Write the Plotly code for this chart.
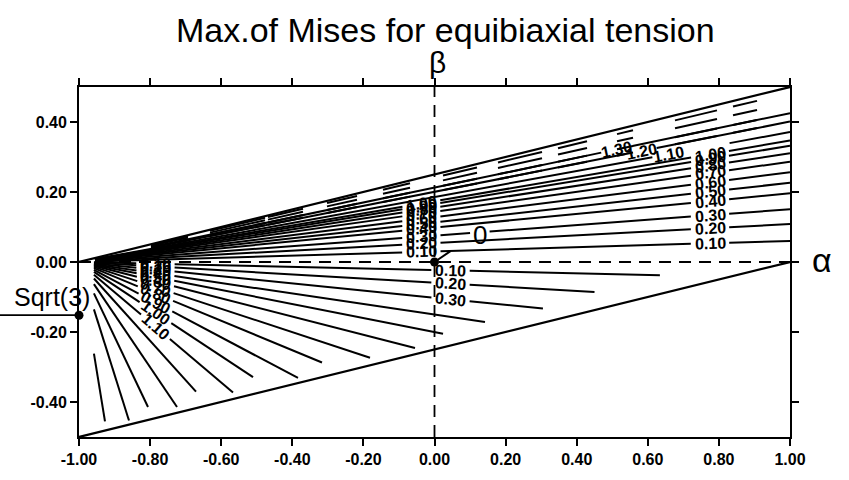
import math
import plotly.graph_objects as go

# ---------------- data ----------------
# every contour is a ray from the point (-1, 0); it is described by its slope
upper_levels = ["0.10", "0.20", "0.30", "0.40", "0.50", "0.60", "0.70", "0.80", "0.90", "1.00", "1.10", "1.20", "1.30"]
upper_slopes = [0.0301, 0.0543, 0.0754, 0.0981, 0.1132, 0.1282, 0.1433, 0.1554, 0.1660, 0.1735, 0.1856, 0.2006, 0.2127]
upper_x_start = [-0.955] * 11 + [-0.72, -0.72]
upper_x_end = [1.0] * 13
# label columns of the upper fan
upper_mid_label_x = -0.037
upper_right_label_x = 0.775
upper_top_labels = ["1.10", "1.20", "1.30"]
upper_top_label_x = [0.657, 0.581, 0.513]

# broken (hatched) contour pieces just under the upper boundary
hatch_slopes = [0.2006, 0.2127, 0.2278, 0.2414]
hatch_x0 = [-0.7975, -0.6315, -0.4684, -0.3024, -0.1449, 0.0239, 0.1786, 0.3474, 0.5134, 0.6765, 0.8397]
hatch_x1 = [-0.6934, -0.4768, -0.3699, -0.2180, -0.0689, 0.1195, 0.3024, 0.4290, 0.5584, 0.7946, 0.9072]

lower_levels = ["0.10", "0.20", "0.30", "0.40", "0.50", "0.60", "0.70", "0.80", "0.90", "1.00",
                "1.10", "1.20", "1.30", "1.40", "1.50", "1.60"]
lower_slopes = [-0.023, -0.059, -0.102, -0.150, -0.200, -0.260, -0.334, -0.420, -0.538, -0.672,
                -0.861, -1.125, -1.503, -2.135, -3.22, -6.23]
lower_x_start = -0.958
lower_x_end = [0.634, 0.45, 0.305, 0.142, 0.024, -0.0549, -0.1814, -0.3165, -0.384, -0.5105,
               -0.5668, -0.6709, -0.7243, -0.8059, -0.8594, -0.9269]
lower_left_label_x = -0.785
lower_left_labelled = 11          # 0.10 ... 1.10
lower_right_label_x = 0.045
lower_right_labelled = 3          # 0.10 ... 0.30

zero_label_pos = (0.128, 0.077)  # the isolated "0"
hook_x = [0.0, 0.045]
hook_y = [0.0, 0.031]
sqrt3_y = -0.152

xticks = [-1.0, -0.8, -0.6, -0.4, -0.2, 0.0, 0.2, 0.4, 0.6, 0.8, 1.0]
yticks = [-0.4, -0.2, 0.0, 0.2, 0.4]

# ---------------- geometry helpers ----------------
XPX, YPX = 355.5, 362.0  # px per data unit
GAP = 0.054
LW = 2.0


def ray_y(s, x):
    return s * (x + 1.0)


def ray_pieces(s, x0, x1, gaps):
    out = []
    cur = x0
    for g0, g1 in sorted(gaps):
        if g1 <= cur or g0 >= x1:
            continue
        if g0 > cur:
            out.append((cur, g0))
        cur = max(cur, g1)
    if cur < x1:
        out.append((cur, x1))
    return out


def gap_at(s, xc, half=GAP):
    h = half / math.sqrt(1 + (s * YPX / XPX) ** 2)
    return (xc - h, xc + h)


def angle(s):
    return math.degrees(math.atan(s * YPX / XPX))


xs, ys = [], []
annotations = []
lab_font = dict(family="Liberation Sans", size=16, color="black", weight="bold")


def add_piece(s, a, b):
    xs.extend([a, b, None])
    ys.extend([ray_y(s, a), ray_y(s, b), None])


def add_label(text, s, x):
    annotations.append(dict(x=x, y=ray_y(s, x), xref="x", yref="y", text=text, showarrow=False,
                            font=lab_font, textangle=-angle(s), xanchor="center", yanchor="middle"))


# upper fan
for i, (lev, s) in enumerate(zip(upper_levels, upper_slopes)):
    gaps = []
    if i < 10:
        gaps.append(gap_at(s, upper_mid_label_x))
        gaps.append(gap_at(s, upper_right_label_x))
        add_label(lev, s, upper_mid_label_x)
        add_label(lev, s, upper_right_label_x)
    else:
        k = i - 10
        xc = upper_top_label_x[k]
        g = gap_at(s, xc, 0.045)
        if k == 0:
            g = (g[0], 0.83)
        gaps.append(g)
        add_label(lev, s, xc)
    if lev == "0.30":
        gaps.append((0.10, 0.155))
    for a, b in ray_pieces(s, upper_x_start[i], upper_x_end[i], gaps):
        add_piece(s, a, b)

# hatched pieces
for s in hatch_slopes:
    for a, b in zip(hatch_x0, hatch_x1):
        add_piece(s, a, b)

# lower fan
for i, (lev, s) in enumerate(zip(lower_levels, lower_slopes)):
    gaps = []
    if i < lower_left_labelled:
        gaps.append(gap_at(s, lower_left_label_x))
        add_label(lev, s, lower_left_label_x)
    if i < lower_right_labelled:
        gaps.append(gap_at(s, lower_right_label_x))
        add_label(lev, s, lower_right_label_x)
    for a, b in ray_pieces(s, lower_x_start, lower_x_end[i], gaps):
        add_piece(s, a, b)

# hook from the origin dot
xs.extend(hook_x + [None])
ys.extend(hook_y + [None])

fig = go.Figure()
fig.add_trace(go.Scatter(x=xs, y=ys, mode="lines", line=dict(color="black", width=LW),
                         hoverinfo="skip", showlegend=False))
# domain boundaries
fig.add_trace(go.Scatter(x=[-1, 1, None, -1, 1], y=[0, 0.5, None, -0.5, 0], mode="lines",
                         line=dict(color="black", width=2.2), hoverinfo="skip", showlegend=False))
# dashed axes through the origin
fig.add_trace(go.Scatter(x=[0, 0, None, -1, 1], y=[-0.5, 0.5, None, 0, 0], mode="lines",
                         line=dict(color="black", width=1.8, dash="12px,8px"),
                         hoverinfo="skip", showlegend=False))
# dots
fig.add_trace(go.Scatter(x=[0, -1], y=[0, sqrt3_y], mode="markers", marker=dict(color="black", size=9),
                         cliponaxis=False, hoverinfo="skip", showlegend=False))

annotations.append(dict(x=zero_label_pos[0], y=zero_label_pos[1], xref="x", yref="y", text="0",
                        showarrow=False, font=dict(family="Liberation Sans", size=26, color="black")))

W, H = 849, 480
L, R, T, B = 79, 59, 87, 31
pw, ph = W - L - R, H - T - B


def px_to_paper(px, py):
    return (px - L) / pw, (H - B - py) / ph


tx, ty = px_to_paper(445, 28)
annotations.append(dict(x=tx, y=ty, xref="paper", yref="paper", text="Max.of Mises for equibiaxial tension",
                        showarrow=False, font=dict(family="Liberation Sans", size=34, color="black"),
                        xanchor="center", yanchor="middle"))
bx, by = px_to_paper(437, 62)
annotations.append(dict(x=bx, y=by, xref="paper", yref="paper", text="β", showarrow=False,
                        font=dict(family="Liberation Sans", size=30, color="black"),
                        xanchor="center", yanchor="middle"))
ax_, ay_ = px_to_paper(822, 266)
annotations.append(dict(x=ax_, y=ay_, xref="paper", yref="paper", text="α", showarrow=False,
                        font=dict(family="Liberation Sans", size=34, color="black"),
                        xanchor="center", yanchor="middle"))
sx, sy = px_to_paper(52, 304)
annotations.append(dict(x=sx, y=sy, xref="paper", yref="paper", text="Sqrt(3)", showarrow=False,
                        font=dict(family="Liberation Sans", size=25, color="black"),
                        xanchor="center", yanchor="middle"))

sqrt3_paper_y = (sqrt3_y + 0.5) / 1.0
shapes = [dict(type="line", xref="paper", yref="paper", x0=-L / pw, x1=0, y0=sqrt3_paper_y, y1=sqrt3_paper_y,
               line=dict(color="black", width=1.8))]

tick_font = dict(family="Liberation Sans", size=16, color="black", weight="bold")
fig.update_layout(
    width=W, height=H, margin=dict(l=L, r=R, t=T, b=B),
    plot_bgcolor="white", paper_bgcolor="white", showlegend=False,
    annotations=annotations, shapes=shapes,
    xaxis=dict(range=[-1, 1], tickvals=xticks, ticktext=["%.2f" % v for v in xticks],
               ticks="outside", ticklen=7, tickwidth=1.8, tickcolor="black",
               showline=True, linewidth=1.8, linecolor="black", mirror="ticks",
               showgrid=False, zeroline=False, tickfont=tick_font),
    yaxis=dict(range=[-0.5, 0.5], tickvals=yticks, ticktext=["%.2f" % v for v in yticks],
               ticks="outside", ticklen=7, tickwidth=1.8, tickcolor="black",
               showline=True, linewidth=1.8, linecolor="black", mirror="ticks",
               showgrid=False, zeroline=False, tickfont=tick_font),
)

fig.write_html("out.html")
